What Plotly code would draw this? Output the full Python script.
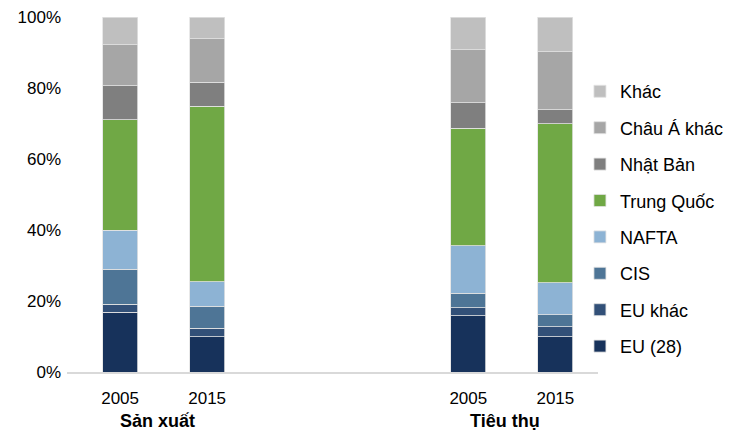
import plotly.graph_objects as go

# vị trí cột trên trục x (0,1 = Sản xuất; 4,5 = Tiêu thụ)
bar_pos = [0, 1, 4, 5]
bar_labels = ["2005", "2015", "2005", "2015"]
group_names = ["Sản xuất", "Tiêu thụ"]
group_pos = [0.5, 4.5]

# tỷ trọng (%), theo thứ tự từ dưới lên
eu28 = [16.8, 10.0, 15.9, 9.9]
eu_khac = [2.3, 2.3, 2.2, 2.9]
cis = [9.9, 6.2, 4.1, 3.3]
nafta = [11.0, 6.9, 13.3, 9.0]
trung_quoc = [31.0, 49.5, 33.1, 44.8]
nhat_ban = [9.6, 6.7, 7.3, 4.0]
chau_a_khac = [11.6, 12.3, 14.9, 16.3]
khac = [7.8, 6.1, 9.2, 9.8]

series = [
    ("EU (28)", eu28, "#17325b"),
    ("EU khác", eu_khac, "#325078"),
    ("CIS", cis, "#4e7596"),
    ("NAFTA", nafta, "#8db3d4"),
    ("Trung Quốc", trung_quoc, "#70a845"),
    ("Nhật Bản", nhat_ban, "#7f7f7f"),
    ("Châu Á khác", chau_a_khac, "#a6a6a6"),
    ("Khác", khac, "#bfbfbf"),
]

fig = go.Figure()
for i, (name, vals, color) in enumerate(series):
    fig.add_trace(go.Bar(
        x=bar_pos, y=vals, name=name, legendgroup=name,
        legendrank=len(series) - i,
        marker=dict(color=color, line=dict(color="#e2e2e2", width=0.8)),
        width=0.4,
    ))

for name, xp in zip(group_names, group_pos):
    fig.add_annotation(x=xp, y=-0.138, xref="x", yref="paper", text="<b>" + name + "</b>",
                       showarrow=False, xshift=-6.5, yanchor="middle",
                       font=dict(size=18, color="#000000"))

# trang html có lề body 8px, nên hình nhỏ hơn cửa sổ 8px
fig.update_layout(
    width=733, height=429,
    barmode="stack",
    barnorm="percent",
    plot_bgcolor="white", paper_bgcolor="white",
    margin=dict(l=59, r=143, t=9, b=65),
    font=dict(family="Liberation Sans, Arial, sans-serif", size=17, color="#000000"),
    legend=dict(x=0.966, xanchor="left", y=0.842, yanchor="top",
                traceorder="grouped", tracegroupgap=10,
                font=dict(size=18), bgcolor="rgba(0,0,0,0)"),
    xaxis=dict(range=[-0.61, 5.49], tickvals=bar_pos, ticktext=bar_labels,
               showgrid=False, zeroline=False, showline=True, automargin=False,
               linecolor="#d9d9d9", linewidth=1.5, ticks="", ticklabelstandoff=10),
    yaxis=dict(range=[0, 100], tickvals=[0, 20, 40, 60, 80, 100],
               ticktext=["0%", "20%", "40%", "60%", "80%", "100%"],
               showgrid=False, zeroline=False, showline=False, ticks="",
               automargin=False, ticklabelstandoff=5, ticklabeloverflow="allow"),
)

fig.write_html("out.html")
